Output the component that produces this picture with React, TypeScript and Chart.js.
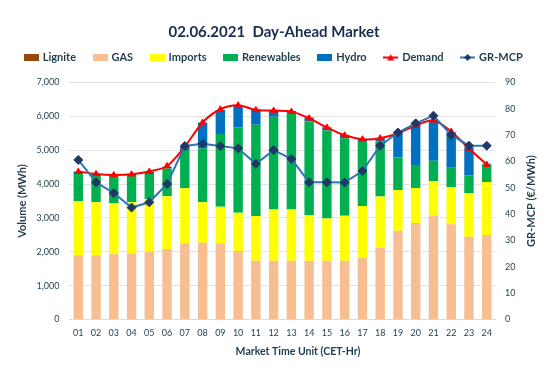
import React, { useEffect, useRef } from 'react';
import { Chart, registerables } from 'chart.js';

Chart.register(...registerables);

const hours = ['01', '02', '03', '04', '05', '06', '07', '08', '09', '10', '11', '12', '13', '14', '15', '16', '17', '18', '19', '20', '21', '22', '23', '24'];
const lignite = [0, 0, 0, 0, 0, 0, 0, 0, 0, 0, 0, 0, 0, 0, 0, 0, 0, 0, 0, 0, 0, 0, 0, 0];
const gas = [1900, 1900, 1930, 1950, 2000, 2080, 2250, 2270, 2250, 2020, 1735, 1735, 1735, 1735, 1735, 1735, 1825, 2120, 2620, 2850, 3075, 2810, 2445, 2495];
const imports = [1600, 1560, 1500, 1510, 1560, 1560, 1625, 1190, 1080, 1130, 1325, 1515, 1515, 1350, 1245, 1330, 1525, 1510, 1205, 1035, 1005, 1105, 1290, 1565];
const renewables = [800, 780, 810, 780, 740, 830, 1135, 1600, 2150, 2530, 2690, 2740, 2840, 2765, 2600, 2285, 1925, 1625, 965, 680, 610, 570, 515, 525];
const hydro = [68, 60, 50, 40, 60, 45, 90, 760, 710, 630, 460, 180, 70, 115, 100, 100, 60, 100, 730, 1235, 1205, 1045, 840, 15];
const demand = [4368, 4300, 4270, 4290, 4370, 4535, 5107, 5820, 6210, 6330, 6190, 6170, 6140, 5945, 5670, 5440, 5325, 5355, 5500, 5730, 5885, 5550, 5050, 4575];
const mcp = [60.6, 52.1, 48.0, 42.5, 44.5, 51.5, 65.9, 66.7, 65.9, 65.0, 59.1, 64.3, 61.0, 52.1, 52.1, 52.0, 56.4, 66.0, 71.0, 74.5, 77.4, 70.1, 66.0, 66.0];
const volumeTicks = { min: 0, max: 7000, step: 1000 };
const priceTicks = { min: 0, max: 90, step: 10 };

const COL = {
  lignite: '#984807',
  gas: '#F7BF91',
  imports: '#FFFF00',
  renewables: '#00B050',
  hydro: '#0070C0',
  demand: '#FF0000',
  mcpLine: '#2E75B6',
  mcpPoint: '#203864',
  text: '#1F3D4C',
  title: '#1A2B50',
  grid: '#E3E3E3',
};
const FONT = "Lato, 'DejaVu Sans', sans-serif";

export default function App() {
  const ref = useRef<HTMLCanvasElement>(null);

  useEffect(() => {
    if (!ref.current) return;
    Chart.defaults.font.family = FONT;

    const mk = (draw: (g: CanvasRenderingContext2D) => void) => {
      const c = document.createElement('canvas');
      c.width = 15;
      c.height = 9;
      const g = c.getContext('2d')!;
      draw(g);
      return c;
    };
    const box = (col: string) => mk((g) => { g.fillStyle = col; g.fillRect(0, 1, 15, 7); });
    const lineTri = mk((g) => {
      g.strokeStyle = COL.demand; g.lineWidth = 2;
      g.beginPath(); g.moveTo(0, 4.5); g.lineTo(15, 4.5); g.stroke();
      g.fillStyle = COL.demand;
      g.beginPath(); g.moveTo(7.5, 1); g.lineTo(11, 7.5); g.lineTo(4, 7.5); g.closePath(); g.fill();
    });
    const lineDia = mk((g) => {
      g.strokeStyle = COL.mcpLine; g.lineWidth = 2;
      g.beginPath(); g.moveTo(0, 4.5); g.lineTo(15, 4.5); g.stroke();
      g.fillStyle = COL.mcpPoint;
      g.beginPath(); g.moveTo(7.5, 1); g.lineTo(11, 4.5); g.lineTo(7.5, 8); g.lineTo(4, 4.5); g.closePath(); g.fill();
    });
    const legendImgs = [box(COL.lignite), box(COL.gas), box(COL.imports), box(COL.renewables), box(COL.hydro), lineTri, lineDia];

    const barCommon = { type: 'bar' as const, stack: 'supply', yAxisID: 'y', order: 2, barPercentage: 0.53, categoryPercentage: 1 };

    const legendHeight = {
      id: 'legendHeight',
      beforeInit(chart: any) {
        const lg = chart.legend;
        if (!lg) return;
        const f = lg.fit;
        lg.fit = function () { f.call(this); this.height = 48.5; };
      },
    };
    const axisTitles = {
      id: 'axisTitles',
      afterDraw(chart: any) {
        const { ctx, chartArea } = chart;
        ctx.save();
        ctx.fillStyle = COL.text;
        ctx.textAlign = 'center';
        ctx.textBaseline = 'middle';
        ctx.font = `bold 10.5px ${FONT}`;
        ctx.fillText('Market Time Unit (CET-Hr)', (chartArea.left + chartArea.right) / 2 + 15.5, chartArea.bottom + 32.2);
        ctx.font = `bold 11px ${FONT}`;
        ctx.translate(chart.width - 16.4, (chartArea.top + chartArea.bottom) / 2);
        ctx.rotate(-Math.PI / 2);
        ctx.fillText('GR-MCP (€/MWh)', 0, 0);
        ctx.restore();
      },
    };

    const chart = new Chart(ref.current, {
      type: 'bar',
      data: {
        labels: hours,
        datasets: [
          { ...barCommon, label: 'Lignite', data: lignite, backgroundColor: COL.lignite },
          { ...barCommon, label: 'GAS', data: gas, backgroundColor: COL.gas },
          { ...barCommon, label: 'Imports', data: imports, backgroundColor: COL.imports },
          { ...barCommon, label: 'Renewables', data: renewables, backgroundColor: COL.renewables },
          { ...barCommon, label: 'Hydro', data: hydro, backgroundColor: COL.hydro },
          {
            type: 'line', label: 'Demand', data: demand, yAxisID: 'y', stack: 'demand', order: 1,
            borderColor: COL.demand, backgroundColor: COL.demand, borderWidth: 2, tension: 0.3,
            pointStyle: 'triangle', pointRadius: 3.5, pointBackgroundColor: COL.demand, pointBorderColor: COL.demand, pointBorderWidth: 1,
          } as any,
          {
            type: 'line', label: 'GR-MCP', data: mcp, yAxisID: 'y1', order: 0,
            borderColor: COL.mcpLine, backgroundColor: COL.mcpPoint, borderWidth: 2, tension: 0,
            pointStyle: 'rectRot', pointRadius: 4.5, pointBackgroundColor: COL.mcpPoint, pointBorderColor: COL.mcpPoint, pointBorderWidth: 1,
          } as any,
        ],
      },
      options: {
        responsive: false,
        animation: false,
        layout: { padding: 0 },
        scales: {
          x: {
            stacked: true,
            grid: { display: false, drawTicks: false },
            border: { display: true, color: '#D9D9D9' },
            ticks: { color: COL.text, font: { size: 9 }, padding: 8, maxRotation: 0, autoSkip: false },
            afterFit: (s: any) => { s.height = 65.5; },
          },
          y: {
            position: 'left',
            stacked: true,
            min: volumeTicks.min,
            max: volumeTicks.max,
            grid: { color: COL.grid, drawTicks: false },
            border: { display: false },
            ticks: {
              stepSize: volumeTicks.step, color: COL.text, font: { size: 9 }, padding: 10,
              callback: (v: any) => Number(v).toLocaleString('en-US'),
            },
            title: { display: true, text: 'Volume (MWh)', color: COL.text, font: { size: 11, weight: 'bold' }, padding: { top: 15.9, bottom: 0 } },
            afterFit: (s: any) => { s.width = 69.4; },
          },
          y1: {
            position: 'right',
            min: priceTicks.min,
            max: priceTicks.max,
            grid: { display: false, drawTicks: false },
            border: { display: false },
            ticks: { stepSize: priceTicks.step, color: COL.text, font: { size: 9 }, padding: 9.5 },
            afterFit: (s: any) => { s.width = 52.4; },
          },
        },
        plugins: {
          title: {
            display: true,
            text: '02.06.2021  Day-Ahead Market',
            color: COL.title,
            font: { size: 15, weight: 'bold' },
            padding: { top: 23.5, bottom: -7.5 },
          },
          legend: {
            display: true,
            labels: {
              usePointStyle: true,
              pointStyleWidth: 12,
              padding: 18,
              color: COL.text,
              font: { size: 11, weight: 'bold' },
              generateLabels: (ch: any) => ch.data.datasets.map((ds: any, i: number) => ({
                text: ds.label,
                fillStyle: ds.backgroundColor,
                strokeStyle: ds.backgroundColor,
                lineWidth: 0,
                pointStyle: legendImgs[i],
                hidden: false,
                datasetIndex: i,
                fontColor: COL.text,
              })),
            },
          },
          tooltip: { enabled: false },
        },
      } as any,
      plugins: [legendHeight, axisTitles],
    });

    return () => chart.destroy();
  }, []);

  return (
    <div style={{ position: 'absolute', left: 0, top: 0, width: 548, height: 385, background: '#fff' }}>
      <canvas ref={ref} width={548} height={385} />
    </div>
  );
}
